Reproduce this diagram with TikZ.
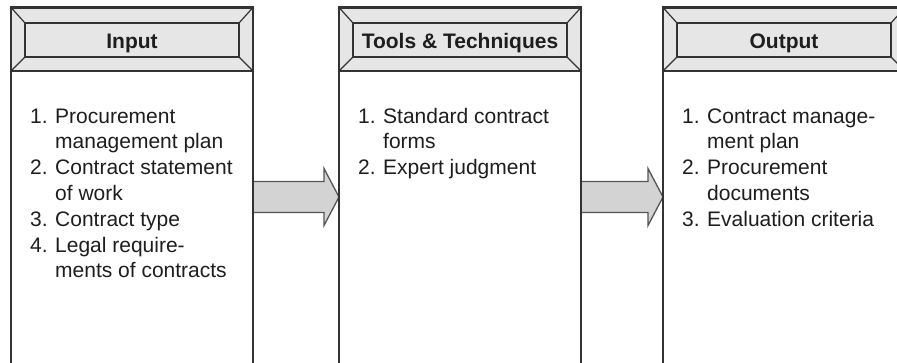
\documentclass[tikz,border=0pt]{standalone}
\usepackage{fontspec}
\setmainfont{Liberation Sans}
\usetikzlibrary{positioning}
\definecolor{linec}{HTML}{333333}
\definecolor{hdrc}{HTML}{E6E6E6}
\definecolor{arrc}{HTML}{D3D3D3}
\definecolor{arrl}{HTML}{555555}
\definecolor{txtc}{HTML}{1E1E1E}
\tikzset{
  box/.style={fill=white, minimum width=242pt, minimum height=368pt, inner sep=0pt, outer sep=0pt},
  hdrin/.style={draw=linec, line width=1.2pt, fill=hdrc, minimum width=214pt, minimum height=34pt, inner sep=0pt, outer sep=0pt},
  bevel/.style={draw=linec, line width=1.2pt},
  outerline/.style={draw=linec, line width=2.6pt},
  title/.style={font=\fontsize{21}{25}\selectfont\bfseries, text=txtc, inner sep=0pt, anchor=base},
  body/.style={font=\fontsize{21}{25.8}\selectfont, text=txtc, inner sep=0pt, anchor=base west},
  bigarrow/.style={draw=arrl, line width=1.3pt, fill=arrc, line join=miter},
}
\newcommand{\ipobox}[3]{%
  \node[box, anchor=north west] (#1) at (#2,7.5) {};
  \coordinate (#1hl) at ([yshift=-63.5pt]#1.north west);
  \coordinate (#1hr) at ([yshift=-63.5pt]#1.north east);
  \fill[hdrc] (#1.north west) rectangle (#1hr);
  \node[hdrin, anchor=north west] (#1H) at ([xshift=14pt,yshift=-15.5pt]#1.north west) {};
  \draw[bevel] (#1.north west) -- (#1H.north west)
               (#1.north east) -- (#1H.north east)
               (#1hl) -- (#1H.south west)
               (#1hr) -- (#1H.south east);
  \node[title] (#1T) at ([yshift=-8pt]#1H.center) {#3};
  \draw[outerline] (#1hl) -- (#1hr);
  \draw[outerline] (#1.south west) rectangle (#1.north east);
}
\newcommand{\nr}[1]{\makebox[25pt][l]{#1}}
\begin{document}
\begin{tikzpicture}[x=1pt,y=-1pt]
\useasboundingbox (0,0) rectangle (897,362);
\clip (0,0) rectangle (897,362);
\fill[white] (0,0) rectangle (897,362);
\coordinate (ay) at (0,197);
\ipobox{in}{11}{Input}
\ipobox{tt}{339}{Tools \& Techniques}
\ipobox{out}{663}{Output}
\coordinate (a1s) at (in.east |- ay);
\coordinate (a1e) at (tt.west |- ay);
\coordinate (a2s) at (tt.east |- ay);
\coordinate (a2e) at (out.west |- ay);
\foreach \s/\e in {a1s/a1e, a2s/a2e}{
  \draw[bigarrow] ([yshift=15.5pt]\s) -- ([xshift=-15pt,yshift=15.5pt]\e) -- ([xshift=-15pt,yshift=28.5pt]\e) -- (\e)
     -- ([xshift=-15pt,yshift=-28.5pt]\e) -- ([xshift=-15pt,yshift=-15.5pt]\e) -- ([yshift=-15.5pt]\s) -- cycle;
}
\draw[outerline] (in.south east) -- (in.north east);
\draw[outerline] (tt.south west) -- (tt.north west);
\draw[outerline] (tt.south east) -- (tt.north east);
\draw[outerline] (out.south west) -- (out.north west);
\node[body] (inB) at ([xshift=19pt,yshift=-115.5pt]in.north west) {%
\begin{tabular}[t]{@{}l@{}l@{}}
\nr{1.}&Procurement\\
&management plan\\
\nr{2.}&Contract statement\\
&of work\\
\nr{3.}&Contract type\\
\nr{4.}&Legal require-\\
&ments of contracts
\end{tabular}};
\node[body] (ttB) at ([xshift=19pt,yshift=-115.5pt]tt.north west) {%
\begin{tabular}[t]{@{}l@{}l@{}}
\nr{1.}&Standard contract\\
&forms\\
\nr{2.}&Expert judgment
\end{tabular}};
\node[body] (outB) at ([xshift=19pt,yshift=-115.5pt]out.north west) {%
\begin{tabular}[t]{@{}l@{}l@{}}
\nr{1.}&Contract manage-\\
&ment plan\\
\nr{2.}&Procurement\\
&documents\\
\nr{3.}&Evaluation criteria
\end{tabular}};
\end{tikzpicture}
\end{document}
